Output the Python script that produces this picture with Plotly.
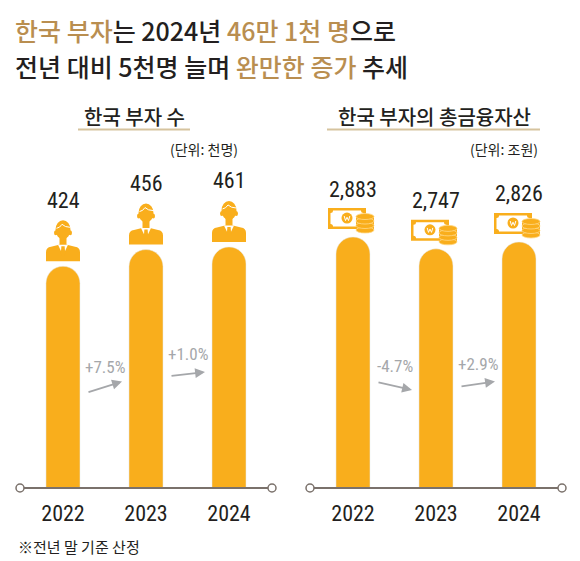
import plotly.graph_objects as go

# Data (한국 부자 보고서)
years = ["2022", "2023", "2024"]
rich_count = [424, 456, 461]          # 한국 부자 수, 천명
fin_assets = [2883, 2747, 2826]       # 총금융자산, 조원
count_change = ["+7.5%", "+1.0%"]
asset_change = ["-4.7%", "+2.9%"]

# Layout constants (screen pixels of the 580x561 window)
W, H = 580, 561
OFF = 8                      # page body margin pushes the figure by 8px
AXIS_Y, TOP_Y = 488, 100
X_RANGE = [-0.518, 2.518]
Y_MAX_L, Y_MAX_R = 742, 4457

ORANGE = "#F9AE1C"
GOLD = "#B98E50"
INK = "#231F20"
GRAY = "#A5A7AA"
AXIS_COL = "#7A716B"

KR = "Noto Sans CJK KR"
NUM = "Liberation Sans Narrow, Roboto Condensed, Liberation Sans, sans-serif"


def px_x(p):
    return (p - OFF) / W


def px_y(p):
    return 1 - (p - OFF) / H


def ppu(ymax):
    # pixels per data unit on a panel
    return (AXIS_Y - TOP_Y) / ymax


fig = go.Figure()

fig.add_trace(go.Bar(x=[0, 1, 2], y=rich_count, width=0.41,
                     marker=dict(color=ORANGE, cornerradius="50%"),
                     xaxis="x", yaxis="y", hoverinfo="skip"))
fig.add_trace(go.Bar(x=[0, 1, 2], y=fin_assets, width=0.41,
                     marker=dict(color=ORANGE, cornerradius="50%"),
                     xaxis="x2", yaxis="y2", hoverinfo="skip"))

shapes = []
annotations = []


def pix(xref, yref, i, v, **kw):
    d = dict(xref=xref, yref=yref, xsizemode="pixel", ysizemode="pixel",
             xanchor=i, yanchor=v, layer="above")
    d.update(kw)
    return d


def person(xref, yref, i, v):
    out = []
    # body
    out.append(pix(xref, yref, i, v, type="path", fillcolor=ORANGE, line_width=0,
                   path="M -17,5 L -17,14 Q -17,19 -12,19.5 L -4,21.5 L 4,21.5 "
                        "L 12,19.5 Q 17,19 17,14 L 17,5 Z"))
    # neck, ears, head
    out.append(pix(xref, yref, i, v, type="rect", x0=-3.5, x1=3.5, y0=19, y1=29,
                   fillcolor=ORANGE, line_width=0))
    out.append(pix(xref, yref, i, v, type="circle", x0=-9, x1=-5.5, y0=31, y1=36,
                   fillcolor=ORANGE, line_width=0))
    out.append(pix(xref, yref, i, v, type="circle", x0=5.5, x1=9, y0=31, y1=36,
                   fillcolor=ORANGE, line_width=0))
    out.append(pix(xref, yref, i, v, type="circle", x0=-7.5, x1=7.5, y0=27, y1=46,
                   fillcolor=ORANGE, line_width=0))
    # collar and tie
    out.append(pix(xref, yref, i, v, type="path", fillcolor="white", line_width=0,
                   path="M -5,21.5 L 0,11 L 5,21.5 Z"))
    out.append(pix(xref, yref, i, v, type="path", fillcolor=ORANGE, line_width=0,
                   path="M -1.6,20 L 1.6,20 L 2.2,13 L 0,9.5 L -2.2,13 Z"))
    # hair line
    out.append(pix(xref, yref, i, v, type="path", fillcolor="rgba(0,0,0,0)",
                   line=dict(color="white", width=1),
                   path="M -6.5,38 Q -3,38.5 -1,42 Q 2,39 7,39"))
    return out


def money(xref, yref, i, v):
    out = []
    out.append(pix(xref, yref, i, v, type="rect", x0=-25, x1=13, y0=8, y1=29,
                   fillcolor=ORANGE, line_width=0))
    out.append(pix(xref, yref, i, v, type="path", fillcolor="white", line_width=0,
                   path="M -20,10.5 L 8,10.5 Q 8,13 10.5,13 L 10.5,24 Q 8,24 8,26.5 "
                        "L -20,26.5 Q -20,24 -22.5,24 L -22.5,13 Q -20,13 -20,10.5 Z"))
    out.append(pix(xref, yref, i, v, type="circle", x0=-11.5, x1=-0.5, y0=13.5, y1=24.5,
                   fillcolor=ORANGE, line_width=0))
    out.append(pix(xref, yref, i, v, type="path", fillcolor="rgba(0,0,0,0)",
                   line=dict(color="white", width=1),
                   path="M -8.8,21 L -7.5,16.5 L -6,19.8 L -4.5,16.5 L -3.2,21"))
    # coin stack
    out.append(pix(xref, yref, i, v, type="rect", x0=3, x1=21, y0=7, y1=20.5,
                   fillcolor=ORANGE, line_width=0))
    for k in range(4):
        yb = 4 + 4.5 * k
        out.append(pix(xref, yref, i, v, type="circle", x0=3, x1=21, y0=yb, y1=yb + 6,
                       fillcolor=ORANGE, line=dict(color="#FFD98A", width=0.8)))
    return out


panels = [
    dict(xa="x", ya="y", vals=rich_count, ymax=Y_MAX_L, icon=person, label_shift=66,
         change=count_change, mid=[101, 114], rise=[11, 4], left=20, right=272),
    dict(xa="x2", ya="y2", vals=fin_assets, ymax=Y_MAX_R, icon=money, label_shift=48,
         change=asset_change, mid=[102, 104], rise=[-8, 5], left=310, right=562),
]

for p in panels:
    u = ppu(p["ymax"])
    # axis base line with end circles
    shapes.append(dict(type="line", xref="paper", yref="paper",
                       x0=px_x(p["left"]), x1=px_x(p["right"]),
                       y0=px_y(AXIS_Y), y1=px_y(AXIS_Y), line=dict(color=AXIS_COL, width=2)))
    for end in (p["left"], p["right"]):
        shapes.append(dict(type="circle", xref="paper", yref="paper",
                           xsizemode="pixel", ysizemode="pixel",
                           xanchor=px_x(end), yanchor=px_y(AXIS_Y),
                           x0=-4, x1=4, y0=-4, y1=4, fillcolor="white",
                           line=dict(color=AXIS_COL, width=1.5)))
    for i, v in enumerate(p["vals"]):
        shapes.extend(p["icon"](p["xa"], p["ya"], i, v))
        annotations.append(dict(xref=p["xa"], yref=p["ya"], x=i, y=v, yshift=p["label_shift"],
                                text=f"{v:,}", showarrow=False, yanchor="middle",
                                font=dict(family=NUM, size=22, color=INK)))
    # change arrows between bars
    half = 17.5 / 83
    for k, txt in enumerate(p["change"]):
        mid, rise = p["mid"][k], p["rise"][k]
        annotations.append(dict(xref=p["xa"], yref=p["ya"], x=k + 0.5 + half,
                                y=(mid + rise / 2) / u, ax=-35, ay=rise,
                                showarrow=True, arrowhead=2, arrowsize=1.1,
                                arrowwidth=1.8, arrowcolor=GRAY, text=""))
        annotations.append(dict(xref=p["xa"], yref=p["ya"], x=k + 0.5, y=(mid + 20) / u,
                                text=txt, showarrow=False, yanchor="middle",
                                font=dict(family=NUM, size=17, color=GRAY)))

# Title
title_l1 = (f'<span style="color:{GOLD}">한국 부자</span>는 2024년 '
            f'<span style="color:{GOLD}">46만 1천 명</span>으로')
title_l2 = f'전년 대비 5천명 늘며 <span style="color:{GOLD}">완만한 증가</span> 추세'
for txt, yy in ((title_l1, 30), (title_l2, 66)):
    annotations.append(dict(xref="paper", yref="paper", x=px_x(13), y=px_y(yy),
                            xanchor="left", yanchor="middle", text=txt, showarrow=False,
                            font=dict(family=KR, size=25, color=INK, weight=500)))

# Panel titles, units, underlines
for txt, cx, x0, x1, unit, ux in (("한국 부자 수", 134, 78, 190, "(단위: 천명)", 240),
                                   ("한국 부자의 총금융자산", 434, 327, 540, "(단위: 조원)", 540)):
    annotations.append(dict(xref="paper", yref="paper", x=px_x(cx), y=px_y(116),
                            xanchor="center", yanchor="middle", text=txt, showarrow=False,
                            font=dict(family=KR, size=20, color=INK, weight=500)))
    shapes.append(dict(type="line", xref="paper", yref="paper", x0=px_x(x0), x1=px_x(x1),
                       y0=px_y(129.5), y1=px_y(129.5), line=dict(color="#D6C39E", width=2)))
    annotations.append(dict(xref="paper", yref="paper", x=px_x(ux), y=px_y(148.5),
                            xanchor="right", yanchor="middle", text=unit, showarrow=False,
                            font=dict(family=KR, size=14, color=INK)))

# Footnote
annotations.append(dict(xref="paper", yref="paper", x=px_x(16), y=px_y(546),
                        xanchor="left", yanchor="middle", text="※전년 말 기준 산정",
                        showarrow=False, font=dict(family=KR, size=15, color=INK)))

y_dom = [px_y(AXIS_Y), px_y(TOP_Y)]
xaxis_common = dict(range=X_RANGE, tickvals=[0, 1, 2], ticktext=years, showgrid=False,
                    zeroline=False, showline=False, ticks="", fixedrange=True,
                    tickfont=dict(family=NUM, size=22, color=INK), ticklabelstandoff=10)
yaxis_common = dict(visible=False, showgrid=False, zeroline=False, fixedrange=True)

fig.update_layout(
    width=W, height=H,
    margin=dict(l=0, r=0, t=0, b=0),
    paper_bgcolor="white", plot_bgcolor="white",
    showlegend=False,
    xaxis=dict(domain=[px_x(20), px_x(272)], anchor="y", **xaxis_common),
    xaxis2=dict(domain=[px_x(310), px_x(562)], anchor="y2", **xaxis_common),
    yaxis=dict(domain=y_dom, range=[0, Y_MAX_L], anchor="x", **yaxis_common),
    yaxis2=dict(domain=y_dom, range=[0, Y_MAX_R], anchor="x2", **yaxis_common),
    shapes=shapes,
    annotations=annotations,
)

fig.write_html("out.html")
